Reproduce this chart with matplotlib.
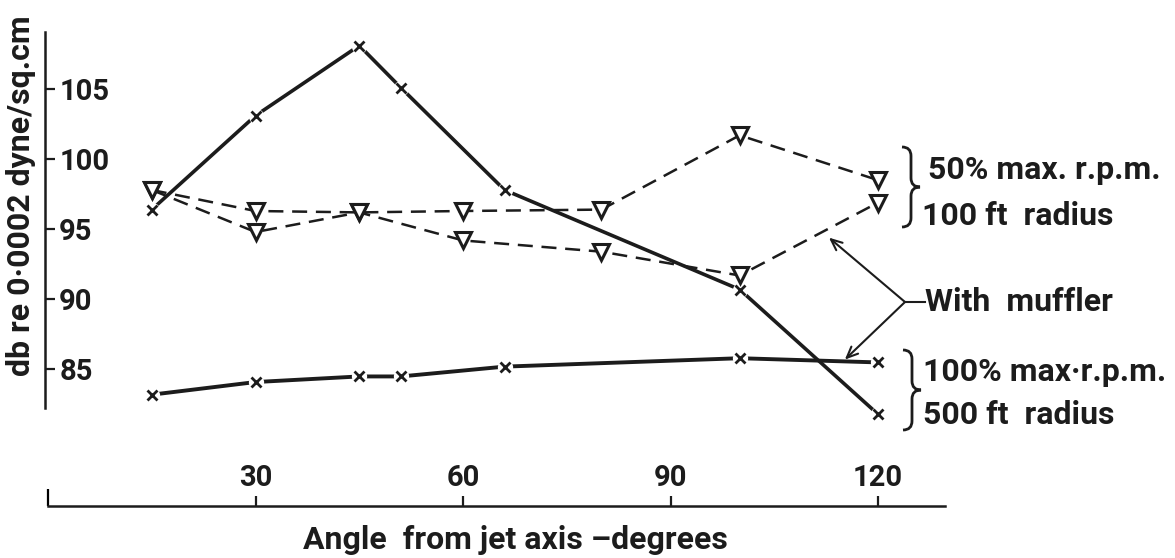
# jet noise vs angle, with and without muffler

import matplotlib.pyplot as plt
from matplotlib.path import Path
from matplotlib.patches import PathPatch
from matplotlib.lines import Line2D

# 100% max rpm, 500 ft radius (crosses)
angle_x = [15, 30, 45, 51, 66, 100, 120]
db_no_muffler = [96.4, 103.1, 108.1, 105.1, 97.8, 90.7, 81.8]
db_muffler = [83.2, 84.1, 84.5, 84.5, 85.2, 85.8, 85.5]

# 50% max rpm, 100 ft radius (triangles)
angle_v = [15, 30, 45, 60, 80, 100, 120]
db_v_upper = [97.8, 96.3, 96.2, 96.3, 96.4, 101.7, 98.5]
db_v_muffler = [97.8, 94.8, 96.2, 94.2, 93.4, 91.7, 96.9]

y_ticks = [85, 90, 95, 100, 105]
x_ticks = [30, 60, 90, 120]

plt.rcParams['font.family'] = ['Roboto', 'DejaVu Sans']
plt.rcParams['font.weight'] = 'bold'

W, H = 1175, 558
ink = '#1c1c1c'
fig = plt.figure(figsize=(W / 100, H / 100), dpi=100)
ax = fig.add_axes([0, 0, 1, 1])
ax.set_xlim(-6.94, 162.93)
ax.set_ylim(71.55, 111.35)


def fpx(x, y):
    # figure pixel -> figure fraction
    return x / W, 1 - y / H


# lines
ax.plot(angle_x, db_no_muffler, '-', color=ink, lw=2.6, zorder=2)
ax.plot(angle_x, db_muffler, '-', color=ink, lw=2.8, zorder=2)
ax.plot(angle_v, db_v_upper, '--', color=ink, lw=1.8, dashes=(6, 3.5), zorder=2)
ax.plot(angle_v, db_v_muffler, '--', color=ink, lw=1.8, dashes=(6, 3.5), zorder=2)

# small gaps round the crosses, as drawn
for d in (db_no_muffler, db_muffler):
    ax.plot(angle_x, d, 'o', ms=11, mfc='white', mec='none', zorder=2.5)
    ax.plot(angle_x, d, 'x', ms=7, mew=2, color=ink, zorder=3)
for d in (db_v_upper, db_v_muffler):
    ax.plot(angle_v, d, 'v', ms=11, mew=2.2, mfc='white', mec=ink, zorder=3)

# axes drawn apart, as in the original
ax.spines['left'].set_visible(False)
ax.spines['bottom'].set_visible(False)
ax.spines['right'].set_position(('data', -0.4))
ax.spines['right'].set_bounds(82.25, 109.06)
ax.spines['top'].set_position(('data', 75.26))
ax.spines['top'].set_bounds(0, 129.7)
for s in ('right', 'top'):
    ax.spines[s].set_linewidth(1.8)
    ax.spines[s].set_color(ink)
ax.yaxis.set_ticks_position('right')
ax.xaxis.set_ticks_position('top')
ax.set_yticks(y_ticks)
ax.set_xticks(x_ticks)
ax.set_xticks([0], minor=True)
ax.tick_params(axis='both', direction='out', length=7, width=1.6,
               pad=3, labelsize=21, color=ink, labelcolor=ink)
ax.tick_params(axis='x', which='minor', length=12, width=1.6)
ax.patch.set_visible(False)

fig.text(*fpx(21, 196), 'db re 0·0002 dyne/sq.cm', rotation=90,
         ha='center', va='center', fontsize=23, color=ink)
fig.text(*fpx(515, 540), 'Angle  from jet axis –degrees',
         ha='center', va='center', fontsize=23, color=ink)

# right-hand labels
fig.text(*fpx(928, 170), '50% max. r.p.m.', va='center', fontsize=23, color=ink)
fig.text(*fpx(922, 216), '100 ft  radius', va='center', fontsize=23, color=ink)
fig.text(*fpx(923, 372), '100% max·r.p.m.', va='center', fontsize=23, color=ink)
fig.text(*fpx(923, 415), '500 ft  radius', va='center', fontsize=23, color=ink)
fig.text(*fpx(925, 302), 'With  muffler', va='center', fontsize=23, color=ink)


def brace(x, top, bot, w=9):
    mid = (top + bot) / 2
    pts = [(x - w, top), (x, top), (x, top + w), (x, mid - w),
           (x, mid), (x + w, mid), (x, mid), (x, mid + w),
           (x, bot - w), (x, bot), (x - w, bot)]
    codes = [Path.MOVETO, Path.CURVE3, Path.CURVE3, Path.LINETO,
             Path.CURVE3, Path.CURVE3, Path.CURVE3, Path.CURVE3,
             Path.LINETO, Path.CURVE3, Path.CURVE3]
    p = Path([fpx(*q) for q in pts], codes)
    fig.add_artist(PathPatch(p, fill=False, lw=2, color=ink,
                             transform=fig.transFigure))


brace(911, 147, 227)
brace(912, 350, 430)

# "With muffler" pointers
vx, vy = fpx(905, 302)
fig.add_artist(Line2D([vx, fpx(925, 302)[0]], [vy, vy], lw=1.5, color=ink))
for tip in [(112.9, 94.4), (115.2, 85.7)]:
    ax.annotate('', xy=tip, xycoords='data', xytext=(vx, vy),
                textcoords='figure fraction',
                arrowprops=dict(arrowstyle='->,head_length=0.8,head_width=0.35',
                                lw=1.5, color=ink, shrinkA=0, shrinkB=0))

fig.savefig('out.png', dpi=100)
